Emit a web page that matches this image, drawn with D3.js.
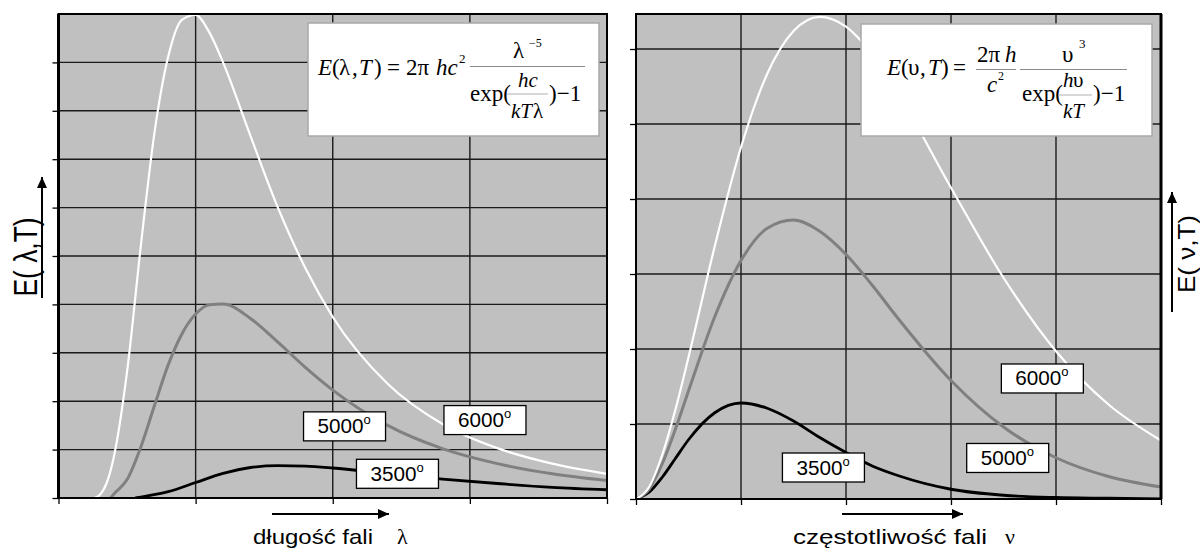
<!DOCTYPE html>
<html><head><meta charset="utf-8">
<script src="https://cdn.jsdelivr.net/npm/d3@7"></script>
<style>body{margin:0;background:#fff} svg{display:block}</style>
</head><body><svg id="c" width="1200" height="553"></svg>
<script>
// ---------- DATA ----------
// Left panel: wavelength (µm) vs E(λ,T), arbitrary units (grid = 1 unit)
const lambdaXTicks = [0, 0.5, 1, 1.5, 2];
const lambdaYTicks = [0,1,2,3,4,5,6,7,8,9,10];
const lambda6000 = [0.13, 0.15, 0.175, 0.2, 0.25, 0.3, 0.35, 0.4, 0.45, 0.5, 0.55, 0.6, 0.7, 0.8, 0.9, 1.0, 1.2, 1.4, 1.6, 1.8, 2.0];
const El6000     = [0, 0.06, 0.3, 0.8, 2.61, 5.20, 7.55, 9.12, 9.88, 9.98, 9.62, 9.00, 7.48, 6.00, 4.75, 3.74, 2.36, 1.53, 1.03, 0.71, 0.50];
const lambda5000 = [0.19, 0.2, 0.25, 0.3, 0.35, 0.4, 0.45, 0.5, 0.55, 0.6, 0.7, 0.8, 0.9, 1.0, 1.2, 1.4, 1.6, 1.8, 2.0];
const El5000     = [0, 0.07, 0.38, 1.05, 1.91, 2.75, 3.39, 3.80, 3.99, 4.01, 3.71, 3.22, 2.70, 2.23, 1.50, 1.02, 0.71, 0.50, 0.36];
const lambda3500 = [0.28, 0.3, 0.4, 0.5, 0.6, 0.7, 0.8, 0.9, 1.0, 1.2, 1.4, 1.6, 1.8, 2.0];
const El3500     = [0, 0.02, 0.13, 0.32, 0.51, 0.63, 0.67, 0.66, 0.62, 0.50, 0.39, 0.30, 0.22, 0.17];

// Right panel: frequency (THz) vs E(ν,T)
const nuXTicks = [0, 200, 400, 600, 800, 1000];
const nuYTicks = [0,1,2,3,4,5,6];
const nuTop = 6.467;
const nu    = [0, 25, 50, 75, 100, 150, 200, 250, 300, 350, 400, 450, 500, 600, 700, 800, 900, 1000];
const En6000 = [0, 0.16, 0.59, 1.19, 1.89, 3.37, 4.69, 5.67, 6.24, 6.43, 6.30, 5.93, 5.40, 4.15, 2.95, 1.97, 1.26, 0.78];
const En5000 = [0, 0.13, 0.47, 0.93, 1.44, 2.43, 3.18, 3.61, 3.72, 3.57, 3.26, 2.85, 2.40, 1.58, 0.96, 0.55, 0.30, 0.16];
const En3500 = [0, 0.09, 0.29, 0.54, 0.79, 1.15, 1.28, 1.21, 1.04, 0.82, 0.62, 0.44, 0.31, 0.13, 0.05, 0.02, 0.01, 0.00];

const seriesNames = ["3500", "5000", "6000"];
const seriesColors = {"3500": "#000000", "5000": "#808080", "6000": "#ffffff"};
const seriesWidths = {"3500": 2.8, "5000": 3, "6000": 2.2};
// label anchors in data units
const lambdaLabels = [["5000", 1.043, 1.48], ["6000", 1.555, 1.61], ["3500", 1.236, 0.50]];
const nuLabels = [["3500", 357, 0.42], ["6000", 774, 1.607], ["5000", 708, 0.547]];

// ---------- DRAWING ----------
const svg = d3.select("#c");
const SANS = "'Liberation Sans', Arial, sans-serif";
const SERIF = "'Liberation Serif', 'Times New Roman', serif";

svg.append("rect").attr("width",1200).attr("height",553).attr("fill","#fff");

function drawPanel(p) {
  const x = d3.scaleLinear().domain(p.xDomain).range(p.xRange);
  const y = d3.scaleLinear().domain(p.yDomain).range(p.yRange);
  const g = svg.append("g");
  const [x0,x1] = p.xRange, [y0,y1] = [p.yRange[1], p.yRange[0]];
  g.append("rect").attr("x",x0).attr("y",y0).attr("width",x1-x0).attr("height",y1-y0).attr("fill","#c0c0c0");
  const clipId = "clip"+p.id;
  svg.append("clipPath").attr("id",clipId).append("rect").attr("x",x0).attr("y",y0).attr("width",x1-x0).attr("height",y1-y0);
  // grid
  g.selectAll(".vg").data(p.xTicks.slice(1,-1)).join("line")
    .attr("x1",d=>x(d)).attr("x2",d=>x(d)).attr("y1",y0).attr("y2",y1)
    .attr("stroke","#1a1a1a").attr("stroke-width",1.4);
  g.selectAll(".hg").data(p.yTicks.filter(v=>v>0 && y(v)>y0+2)).join("line")
    .attr("y1",d=>y(d)).attr("y2",d=>y(d)).attr("x1",x0).attr("x2",x1)
    .attr("stroke","#1a1a1a").attr("stroke-width",1.4);
  // curves
  const line = d3.line().x(d=>x(d[0])).y(d=>y(d[1])).curve(d3.curveMonotoneX);
  const cg = g.append("g").attr("clip-path",`url(#${clipId})`);
  p.series.forEach(s=>{
    cg.append("path").attr("d", line(d3.zip(s.xs, s.ys)))
      .attr("fill","none").attr("stroke",seriesColors[s.name]).attr("stroke-width",seriesWidths[s.name])
      .attr("stroke-linejoin","round");
  });
  // border
  g.append("rect").attr("x",x0).attr("y",y0).attr("width",x1-x0).attr("height",y1-y0)
    .attr("fill","none").attr("stroke","#000").attr("stroke-width",2);
  g.append("line").attr("x1",x0).attr("x2",x0).attr("y1",y0).attr("y2",y1).attr("stroke","#000").attr("stroke-width",p.leftW);
  g.append("line").attr("x1",x1).attr("x2",x1).attr("y1",y0).attr("y2",y1).attr("stroke","#000").attr("stroke-width",p.rightW);
  // axes ticks
  const ax = g.append("g").attr("transform",`translate(0,${y1})`)
    .call(d3.axisBottom(x).tickValues(p.xTicks).tickSize(6).tickFormat(""));
  ax.select(".domain").remove();
  ax.selectAll("line").attr("stroke","#000").attr("stroke-width",1.3);
  const ay = g.append("g").attr("transform",`translate(${x0},0)`)
    .call(d3.axisLeft(y).tickValues(p.yTicks.filter(v=>y(v)>y0+2)).tickSize(6).tickFormat(""));
  ay.select(".domain").remove();
  ay.selectAll("line").attr("stroke","#000").attr("stroke-width",1.3);
  return {x,y,g};
}

const L = drawPanel({id:"L", xDomain:[0,2], xRange:[58.5,607], yDomain:[0,10], yRange:[498,14],
  xTicks: lambdaXTicks, yTicks: lambdaYTicks, leftW:3, rightW:2,
  series:[{name:"3500",xs:lambda3500,ys:El3500},{name:"5000",xs:lambda5000,ys:El5000},{name:"6000",xs:lambda6000,ys:El6000}]});
const R = drawPanel({id:"R", xDomain:[0,1000], xRange:[636,1161], yDomain:[0,nuTop], yRange:[499,14],
  xTicks: nuXTicks, yTicks: nuYTicks, leftW:2, rightW:3,
  series:[{name:"3500",xs:nu,ys:En3500},{name:"5000",xs:nu,ys:En5000},{name:"6000",xs:nu,ys:En6000}]});

// temperature label boxes
function tempLabel(P, lab) {
  const cx = P.x(lab[1]), cy = P.y(lab[2]);
  const bw = 82, bh = 29;
  svg.append("rect").attr("x",cx-bw/2).attr("y",cy-bh/2).attr("width",bw).attr("height",bh)
    .attr("fill","#fff").attr("stroke","#000").attr("stroke-width",1.3);
  svg.append("text").attr("x",cx-27).attr("y",cy+7).attr("font-family",SANS).attr("font-size",20)
    .attr("textLength",46).attr("lengthAdjust","spacingAndGlyphs").text(lab[0]);
  svg.append("text").attr("x",cx+19).attr("y",cy-2).attr("font-family",SANS).attr("font-size",13).text("o");
}
lambdaLabels.forEach(l=>tempLabel(L,l));
nuLabels.forEach(l=>tempLabel(R,l));

// formula boxes
function box(x,y,w,h){
  svg.append("rect").attr("x",x).attr("y",y).attr("width",w).attr("height",h)
    .attr("fill","#fff").attr("stroke","#a8a8a8").attr("stroke-width",1.5);
}
function t(x,y,str,size,italic){
  svg.append("text").attr("x",x).attr("y",y).attr("font-family",SERIF).attr("font-size",size)
    .attr("font-style",italic?"italic":"normal").text(str);
}
function hl(x1,x2,y,c){
  svg.append("line").attr("x1",x1).attr("x2",x2).attr("y1",y).attr("y2",y).attr("stroke",c||"#8a8a8a").attr("stroke-width",1.2);
}
box(308,23,291,113);
t(318,75,"E",23,true); t(332,75,"(",23); t(339,75,"λ",23); t(352,75,",",23); t(359,75,"T",23,true); t(374,75,")",23);
t(387,75,"=",23); t(406,75,"2π",23); t(436,75,"hc",23,true); t(459,63,"2",13);
t(513,58,"λ",23); t(529,47,"−5",12);
hl(470,585,66.5);
t(470,101,"exp(",23); t(518,87,"hc",21,true); hl(507,548,94,"#b0b0b0");
t(511,118,"kT",21,true); t(533,118,"λ",21); t(549,101,")−1",23);

box(861,24,291,112);
t(887,75,"E",23,true); t(901,75,"(",23); t(908,75,"υ",23); t(920,75,",",23); t(928,75,"T",23,true); t(941,75,")",23);
t(953,75,"=",23);
t(977,62,"2π",23); t(1005,62,"h",23,true); hl(976,1016,69.5);
t(987,92,"c",23,true); t(998,80,"2",12);
hl(1020,1127,69.5);
t(1062,62,"υ",23); t(1079,48,"3",13);
t(1022,101,"exp(",23); t(1063,87,"h",21,true); t(1073,87,"υ",21); hl(1058,1092,95,"#b0b0b0");
t(1063,118,"kT",21,true); t(1093,101,")−1",23);

// arrows
function arrow(x1,y1,x2,y2){
  svg.append("line").attr("x1",x1).attr("y1",y1).attr("x2",x2).attr("y2",y2).attr("stroke","#000").attr("stroke-width",2);
  const a = Math.atan2(y2-y1,x2-x1), L=11, W=5;
  const bx = x2 - L*Math.cos(a), by = y2 - L*Math.sin(a);
  const px = -Math.sin(a)*W, py = Math.cos(a)*W;
  svg.append("path").attr("d",`M${x2},${y2}L${bx+px},${by+py}L${bx-px},${by-py}Z`).attr("fill","#000");
}
arrow(42,298,42,177);
arrow(1172,312,1172,192);
arrow(272,514,389,514);
arrow(842,514,963,514);

// axis titles
svg.append("text").attr("transform","translate(37,257) scale(1.2,1) rotate(-90)").attr("text-anchor","middle")
  .attr("font-family",SANS).attr("font-size",27).attr("textLength",79).attr("lengthAdjust","spacingAndGlyphs").text("E( λ,T)");
svg.append("text").attr("transform","translate(1195,254) rotate(-90)").attr("text-anchor","middle")
  .attr("font-family",SANS).attr("font-size",24).attr("textLength",78).attr("lengthAdjust","spacingAndGlyphs").text("E( ν,T)");
svg.append("text").attr("x",253).attr("y",544).attr("font-family",SANS).attr("font-size",21)
  .attr("textLength",120).attr("lengthAdjust","spacingAndGlyphs").text("długość fali");
svg.append("text").attr("x",397).attr("y",544).attr("font-family",SERIF).attr("font-size",22).text("λ");
svg.append("text").attr("x",793).attr("y",544).attr("font-family",SANS).attr("font-size",21)
  .attr("textLength",194).attr("lengthAdjust","spacingAndGlyphs").text("częstotliwość fali");
svg.append("text").attr("x",1005).attr("y",544).attr("font-family",SERIF).attr("font-size",22).text("ν");
</script></body></html>
